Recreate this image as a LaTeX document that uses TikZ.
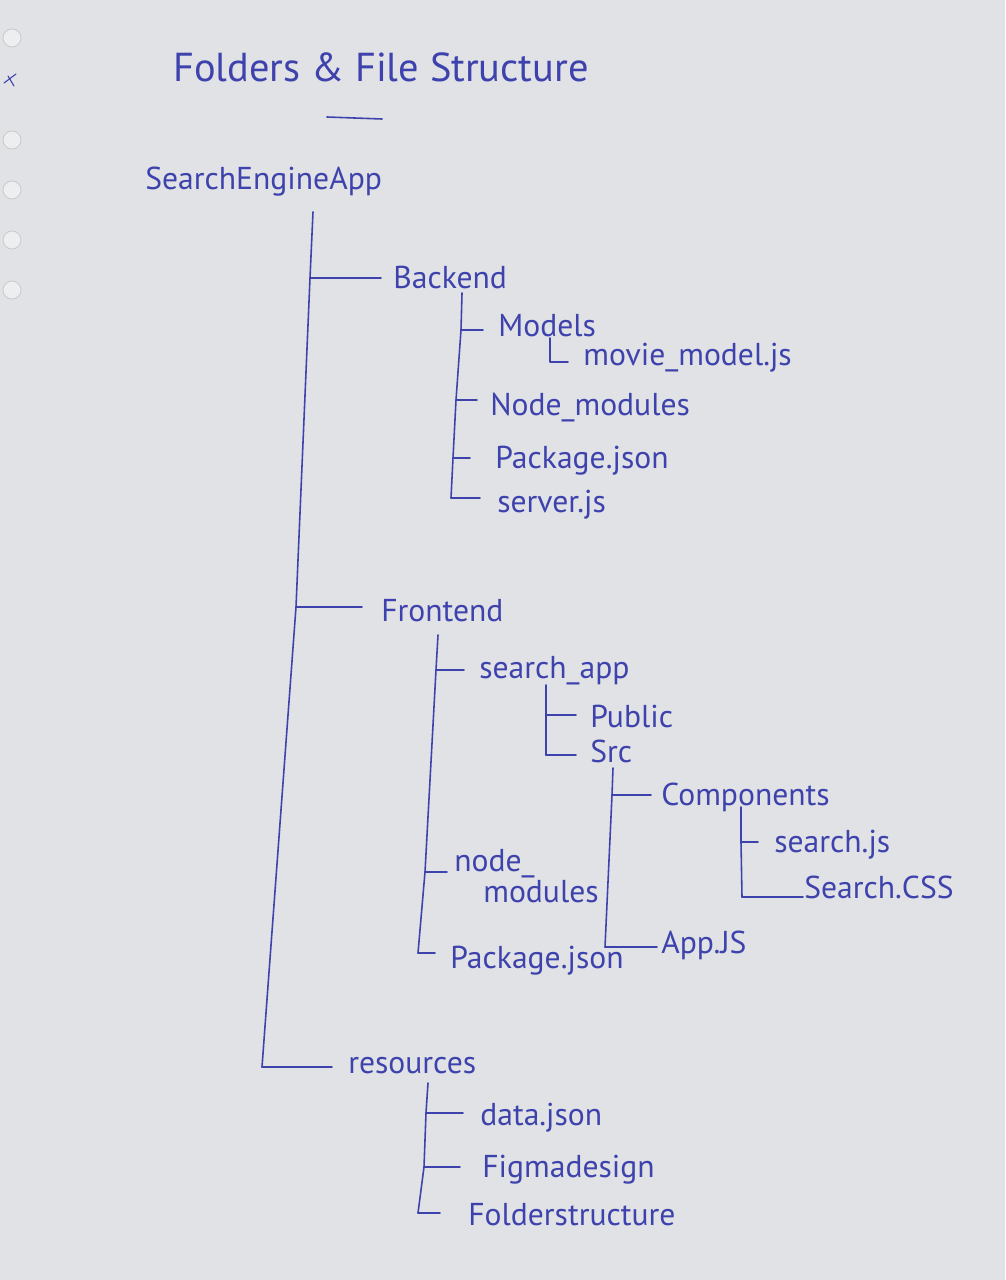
\documentclass[tikz,border=0pt]{standalone}
\usepackage{fontspec}
\setmainfont{PT Sans}
\usetikzlibrary{calc}
\definecolor{paper}{RGB}{224,226,229}
\definecolor{ink}{RGB}{62,66,172}
\tikzset{
	pen/.style={draw=ink, line width=0.9pt, line cap=round, line join=round},
	item/.style={text=ink, anchor=base west, inner sep=0pt, font=\fontsize{18}{21}\selectfont},
	head/.style={item, font=\fontsize{23}{26}\selectfont},
	hole/.style={draw=gray!45, fill=paper!60!white, line width=0.4pt},
}
\begin{document}
\begin{tikzpicture}[x=0.02cm, y=-0.02cm]
		\fill[paper] (0,0) rectangle (1005,1280);
		% punched holes of the sheet
		\foreach \hy in {38,140,190,240,290}
			\draw[hole] (12,\hy) circle (9);
		\draw[pen, line width=0.6pt] (4,83) -- (16,74) (8,76) -- (14,86);
		% title
		\node[head] (title) at (173,82) {Folders \& File Structure};
		\draw[pen] (327,117) -- (382,119);
		% root
		\node[item] (app) at (145,190) {SearchEngineApp};
		\node[item] (backend) at (393,289) {Backend};
		\node[item] (frontend) at (381,621) {Frontend};
		\node[item] (resources) at (348,1073) {resources};
		\coordinate (m0) at (313,212);
		\coordinate (m1) at (310,278);
		\coordinate (m2) at (296,607);
		\coordinate (m3) at (262,1067);
		\draw[pen] (m0) -- (m1) -- (m2) -- (m3);
		\draw[pen, shorten >=0.24cm] (m1) -- (m1 -| backend.west);
		\draw[pen, shorten >=0.38cm] (m2) -- (m2 -| frontend.west);
		\draw[pen, shorten >=0.32cm] (m3) -- (m3 -| resources.west);
		% backend
		\node[item] (models) at (498,337) {Models};
		\node[item] (moviemodel) at (583,365) {movie\_model.js};
		\node[item] (bnode) at (490,415) {Node\_modules};
		\node[item] (bpkg) at (495,468) {Package.json};
		\node[item] (server) at (497,512) {server.js};
		\coordinate (b0) at (462,293);
		\coordinate (b1) at (461,330);
		\coordinate (b2) at (456,400);
		\coordinate (b3) at (453,458);
		\coordinate (b4) at (451,498);
		\draw[pen] (b0) -- (b1) -- (b2) -- (b3) -- (b4);
		\draw[pen, shorten >=0.30cm] (b1) -- (b1 -| models.west);
		\draw[pen, shorten >=0.26cm] (b2) -- (b2 -| bnode.west);
		\draw[pen, shorten >=0.50cm] (b3) -- (b3 -| bpkg.west);
		\draw[pen, shorten >=0.34cm] (b4) -- (b4 -| server.west);
		\coordinate (mm0) at (550,338);
		\coordinate (mm1) at (550,362);
		\draw[pen, shorten >=0.30cm] (mm0) -- (mm1) -- (mm1 -| moviemodel.west);
		% frontend
		\node[item] (searchapp) at (479,678) {search\_app};
		\node[item, align=left, font=\fontsize{18}{16}\selectfont] (fnode) at (454,902) {node\_\\\hspace*{0.58cm}modules};
		\node[item] (fpkg) at (450,968) {Package.json};
		\coordinate (f0) at (438,635);
		\coordinate (f1) at (436,670);
		\coordinate (f2) at (425,872);
		\coordinate (f3) at (418,953);
		\draw[pen] (f0) -- (f1) -- (f2) -- (f3);
		\draw[pen, shorten >=0.30cm] (f1) -- (f1 -| searchapp.west);
		\draw[pen, shorten >=0.14cm] (f2) -- (f2 -| fnode.west);
		\draw[pen, shorten >=0.30cm] (f3) -- (f3 -| fpkg.west);
		\node[item] (public) at (590,727) {Public};
		\node[item] (src) at (590,762) {Src};
		\coordinate (s0) at (546,685);
		\coordinate (s1) at (546,715);
		\coordinate (s2) at (546,755);
		\draw[pen] (s0) -- (s2);
		\draw[pen, shorten >=0.28cm] (s1) -- (s1 -| public.west);
		\draw[pen, shorten >=0.28cm] (s2) -- (s2 -| src.west);
		\node[item] (components) at (661,805) {Components};
		\node[item] (appjs) at (661,953) {App.JS};
		\coordinate (r0) at (613,768);
		\coordinate (r1) at (612,795);
		\coordinate (r2) at (605,947);
		\draw[pen] (r0) -- (r1) -- (r2);
		\draw[pen, shorten >=0.20cm] (r1) -- (r1 -| components.west);
		\draw[pen, shorten >=0.08cm] (r2) -- (r2 -| appjs.west);
		\node[item] (searchjs) at (774,852) {search.js};
		\node[item] (searchcss) at (804,898) {Search.CSS};
		\coordinate (c0) at (741,807);
		\coordinate (c1) at (741,842);
		\coordinate (c2) at (742,897);
		\draw[pen] (c0) -- (c1) -- (c2);
		\draw[pen, shorten >=0.32cm] (c1) -- (c1 -| searchjs.west);
		\draw[pen, shorten >=0.02cm] (c2) -- (c2 -| searchcss.west);
		% resources
		\node[item] (data) at (480,1125) {data.json};
		\node[item] (figma) at (482,1177) {Figmadesign};
		\node[item] (folderst) at (468,1225) {Folderstructure};
		\coordinate (q0) at (428,1083);
		\coordinate (q1) at (426,1113);
		\coordinate (q2) at (424,1167);
		\coordinate (q3) at (418,1213);
		\draw[pen] (q0) -- (q1) -- (q2) -- (q3);
		\draw[pen, shorten >=0.34cm] (q1) -- (q1 -| data.west);
		\draw[pen, shorten >=0.44cm] (q2) -- (q2 -| figma.west);
		\draw[pen, shorten >=0.56cm] (q3) -- (q3 -| folderst.west);
	\end{tikzpicture}
\end{document}
